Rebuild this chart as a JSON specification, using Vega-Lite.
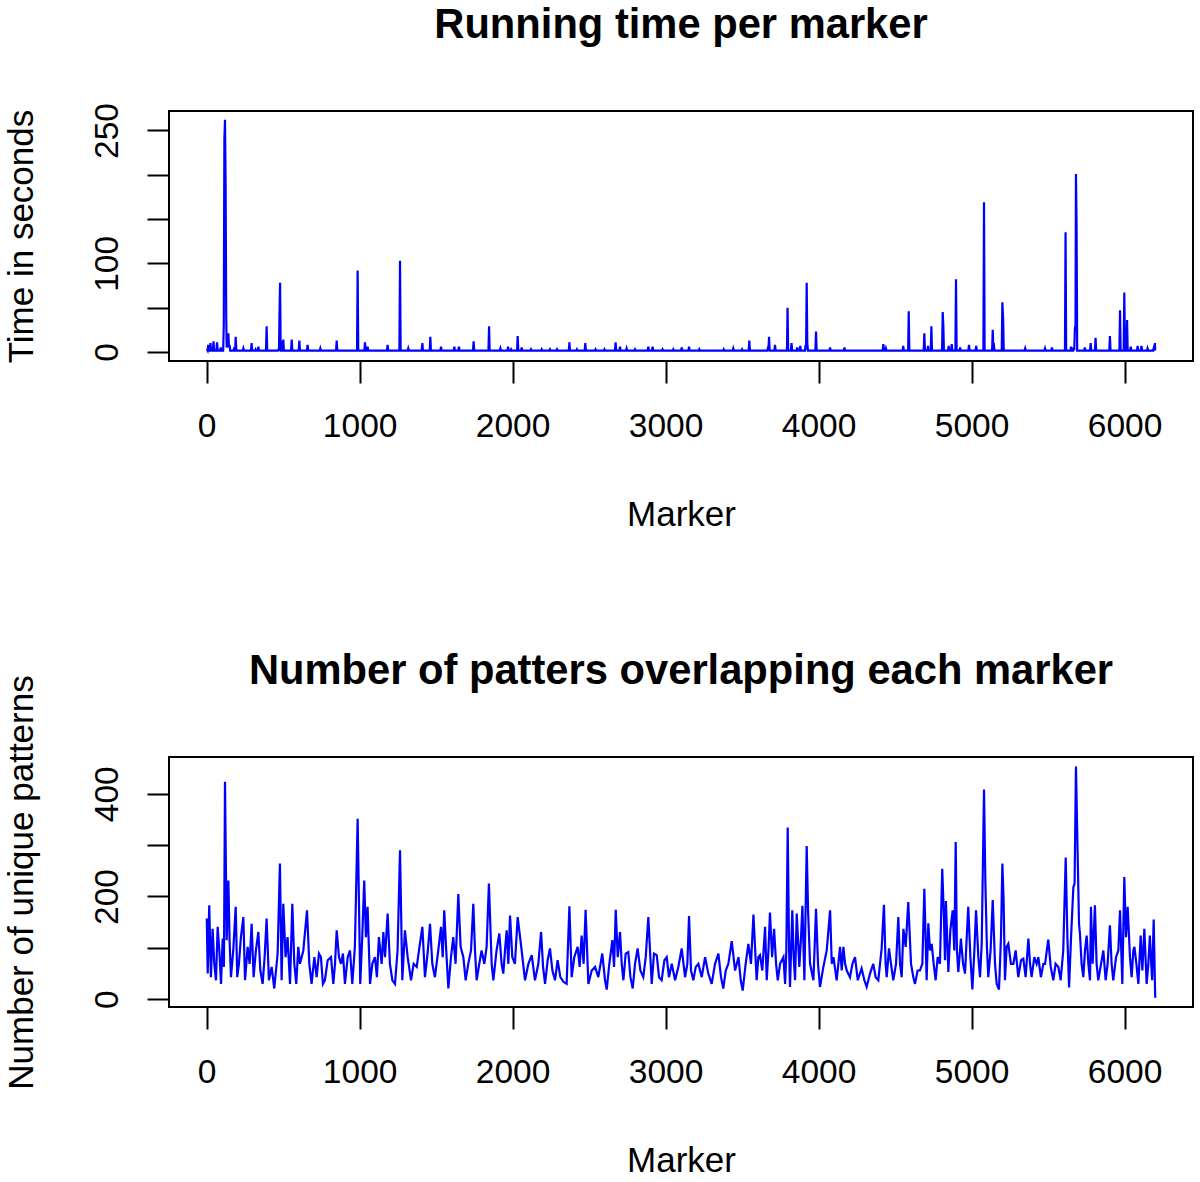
{
 "$schema": "https://vega.github.io/schema/vega-lite/v6.json",
 "background": "white",
 "padding": {"left": 3, "top": 3, "right": 0, "bottom": 0},
 "spacing": 396,
 "bounds": "flush",
 "config": {
  "font": "Liberation Sans",
  "view": {"stroke": "black", "strokeWidth": 2},
  "axis": {"domain": false, "grid": false, "ticks": true, "tickColor": "black", "tickWidth": 2, "tickSize": 22, "labelColor": "black", "labelFontSize": 33.5, "labelFont": "Liberation Sans", "titleFont": "Liberation Sans", "titleFontSize": 35, "titleFontWeight": "normal", "titleColor": "black", "labelOverlap": false, "labelFlush": false},
  "axisX": {"labelPadding": 27, "titlePadding": 55, "format": "d"},
  "axisY": {"labelAngle": -90, "labelAlign": "center", "labelBaseline": "alphabetic", "labelPadding": 30, "titlePadding": 51, "format": "d"},
  "title": {"fontSize": 41.7, "fontWeight": "bold", "font": "Liberation Sans", "color": "black", "anchor": "middle", "baseline": "alphabetic", "frame": "group"}
 },
 "datasets": {
  "t": [
   {"m":1,"v":3},{"m":6,"v":1.5},{"m":10,"v":8},{"m":14,"v":1.5},{"m":21,"v":1.5},{"m":25,"v":10},{"m":29,"v":1.5},{"m":41,"v":1.5},{"m":45,"v":12},{"m":49,"v":1.5},{"m":64,"v":1.5},{"m":68,"v":11},{"m":72,"v":1.5},{"m":88,"v":1.5},{"m":92,"v":5},{"m":96,"v":1.5},{"m":108,"v":1.5},{"m":112,"v":30},{"m":116,"v":240},{"m":120,"v":262},{"m":124,"v":190},{"m":128,"v":40},{"m":131,"v":5},{"m":135,"v":12},{"m":138,"v":5},{"m":142,"v":21},{"m":146,"v":5},{"m":150,"v":8},{"m":154,"v":1.5},{"m":176,"v":1.5},{"m":180,"v":5},{"m":184,"v":1.5},{"m":186,"v":1.5},{"m":190,"v":17},{"m":194,"v":1.5},{"m":236,"v":1.5},{"m":240,"v":4},{"m":244,"v":1.5},{"m":290,"v":1.5},{"m":294,"v":10},{"m":298,"v":1.5},{"m":316,"v":1.5},{"m":320,"v":3},{"m":324,"v":1.5},{"m":334,"v":1.5},{"m":338,"v":6},{"m":342,"v":1.5},{"m":388,"v":1.5},{"m":392,"v":29},{"m":396,"v":1.5},{"m":466,"v":1.5},{"m":470,"v":3},{"m":473,"v":1.5},{"m":476,"v":40},{"m":480,"v":78},{"m":484,"v":1.5},{"m":488,"v":1.5},{"m":492,"v":12},{"m":496,"v":1.5},{"m":497,"v":1.5},{"m":501,"v":14},{"m":505,"v":1.5},{"m":552,"v":1.5},{"m":556,"v":14},{"m":560,"v":1.5},{"m":602,"v":1.5},{"m":606,"v":13},{"m":610,"v":1.5},{"m":656,"v":1.5},{"m":660,"v":8},{"m":664,"v":1.5},{"m":739,"v":1.5},{"m":743,"v":4},{"m":747,"v":1.5},{"m":846,"v":1.5},{"m":850,"v":13},{"m":854,"v":1.5},{"m":983,"v":1.5},{"m":987,"v":92},{"m":991,"v":1.5},{"m":1031,"v":1.5},{"m":1035,"v":11},{"m":1039,"v":1.5},{"m":1048,"v":1.5},{"m":1052,"v":6},{"m":1056,"v":1.5},{"m":1179,"v":1.5},{"m":1183,"v":8},{"m":1187,"v":1.5},{"m":1260,"v":1.5},{"m":1264,"v":103},{"m":1268,"v":1.5},{"m":1314,"v":1.5},{"m":1318,"v":4},{"m":1322,"v":1.5},{"m":1406,"v":1.5},{"m":1410,"v":10},{"m":1414,"v":1.5},{"m":1458,"v":1.5},{"m":1462,"v":17},{"m":1466,"v":1.5},{"m":1528,"v":1.5},{"m":1532,"v":6},{"m":1536,"v":1.5},{"m":1615,"v":1.5},{"m":1619,"v":6},{"m":1623,"v":1.5},{"m":1645,"v":1.5},{"m":1649,"v":6},{"m":1653,"v":1.5},{"m":1741,"v":1.5},{"m":1745,"v":12},{"m":1749,"v":1.5},{"m":1842,"v":1.5},{"m":1846,"v":29},{"m":1850,"v":1.5},{"m":1916,"v":1.5},{"m":1920,"v":4},{"m":1924,"v":1.5},{"m":1966,"v":1.5},{"m":1970,"v":6},{"m":1974,"v":1.5},{"m":1986,"v":1.5},{"m":1990,"v":3},{"m":1994,"v":1.5},{"m":2029,"v":1.5},{"m":2033,"v":18},{"m":2037,"v":1.5},{"m":2055,"v":1.5},{"m":2059,"v":5},{"m":2063,"v":1.5},{"m":2116,"v":1.5},{"m":2120,"v":3},{"m":2124,"v":1.5},{"m":2186,"v":1.5},{"m":2190,"v":3},{"m":2194,"v":1.5},{"m":2240,"v":1.5},{"m":2244,"v":3},{"m":2248,"v":1.5},{"m":2286,"v":1.5},{"m":2290,"v":3},{"m":2294,"v":1.5},{"m":2367,"v":1.5},{"m":2371,"v":11},{"m":2375,"v":1.5},{"m":2416,"v":1.5},{"m":2420,"v":3},{"m":2424,"v":1.5},{"m":2471,"v":1.5},{"m":2475,"v":10},{"m":2479,"v":1.5},{"m":2538,"v":1.5},{"m":2542,"v":3},{"m":2546,"v":1.5},{"m":2596,"v":1.5},{"m":2600,"v":3},{"m":2604,"v":1.5},{"m":2669,"v":1.5},{"m":2673,"v":11},{"m":2677,"v":1.5},{"m":2698,"v":1.5},{"m":2702,"v":6},{"m":2706,"v":1.5},{"m":2741,"v":1.5},{"m":2745,"v":4},{"m":2749,"v":1.5},{"m":2796,"v":1.5},{"m":2800,"v":3},{"m":2804,"v":1.5},{"m":2883,"v":1.5},{"m":2887,"v":6},{"m":2891,"v":1.5},{"m":2911,"v":1.5},{"m":2915,"v":6},{"m":2919,"v":1.5},{"m":2976,"v":1.5},{"m":2980,"v":3},{"m":2984,"v":1.5},{"m":3046,"v":1.5},{"m":3050,"v":3},{"m":3054,"v":1.5},{"m":3101,"v":1.5},{"m":3105,"v":5},{"m":3109,"v":1.5},{"m":3149,"v":1.5},{"m":3153,"v":6},{"m":3157,"v":1.5},{"m":3216,"v":1.5},{"m":3220,"v":3},{"m":3224,"v":1.5},{"m":3376,"v":1.5},{"m":3380,"v":3},{"m":3384,"v":1.5},{"m":3438,"v":1.5},{"m":3442,"v":4},{"m":3446,"v":1.5},{"m":3496,"v":1.5},{"m":3500,"v":3},{"m":3504,"v":1.5},{"m":3543,"v":1.5},{"m":3547,"v":13},{"m":3551,"v":1.5},{"m":3664,"v":1.5},{"m":3668,"v":4},{"m":3672,"v":1.5},{"m":3676,"v":17},{"m":3680,"v":1.5},{"m":3711,"v":1.5},{"m":3715,"v":8},{"m":3719,"v":1.5},{"m":3793,"v":1.5},{"m":3797,"v":50},{"m":3801,"v":1.5},{"m":3819,"v":1.5},{"m":3823,"v":10},{"m":3827,"v":1.5},{"m":3856,"v":1.5},{"m":3860,"v":5},{"m":3864,"v":1.5},{"m":3876,"v":1.5},{"m":3880,"v":7},{"m":3884,"v":1.5},{"m":3911,"v":1.5},{"m":3915,"v":8},{"m":3918,"v":3},{"m":3922,"v":78},{"m":3926,"v":10},{"m":3930,"v":1.5},{"m":3979,"v":1.5},{"m":3983,"v":23},{"m":3987,"v":1.5},{"m":4071,"v":1.5},{"m":4075,"v":5},{"m":4079,"v":1.5},{"m":4165,"v":1.5},{"m":4169,"v":5},{"m":4173,"v":1.5},{"m":4419,"v":1.5},{"m":4423,"v":9},{"m":4427,"v":1.5},{"m":4436,"v":1.5},{"m":4440,"v":4},{"m":4444,"v":1.5},{"m":4549,"v":1.5},{"m":4553,"v":7},{"m":4557,"v":1.5},{"m":4585,"v":1.5},{"m":4589,"v":46},{"m":4593,"v":1.5},{"m":4687,"v":1.5},{"m":4691,"v":21},{"m":4695,"v":1.5},{"m":4711,"v":1.5},{"m":4715,"v":7},{"m":4719,"v":1.5},{"m":4733,"v":1.5},{"m":4737,"v":29},{"m":4741,"v":1.5},{"m":4807,"v":1.5},{"m":4811,"v":45},{"m":4815,"v":30},{"m":4819,"v":1.5},{"m":4846,"v":1.5},{"m":4850,"v":7},{"m":4854,"v":1.5},{"m":4866,"v":1.5},{"m":4870,"v":9},{"m":4874,"v":1.5},{"m":4894,"v":1.5},{"m":4898,"v":82},{"m":4902,"v":1.5},{"m":4921,"v":1.5},{"m":4925,"v":5},{"m":4929,"v":1.5},{"m":4979,"v":1.5},{"m":4983,"v":8},{"m":4987,"v":1.5},{"m":5026,"v":1.5},{"m":5030,"v":7},{"m":5034,"v":1.5},{"m":5077,"v":1.5},{"m":5081,"v":169},{"m":5085,"v":1.5},{"m":5134,"v":1.5},{"m":5138,"v":25},{"m":5142,"v":5},{"m":5145,"v":10},{"m":5149,"v":1.5},{"m":5197,"v":1.5},{"m":5201,"v":56},{"m":5206,"v":37},{"m":5210,"v":1.5},{"m":5346,"v":1.5},{"m":5350,"v":4},{"m":5354,"v":1.5},{"m":5476,"v":1.5},{"m":5480,"v":4},{"m":5484,"v":1.5},{"m":5521,"v":1.5},{"m":5525,"v":5},{"m":5529,"v":1.5},{"m":5610,"v":1.5},{"m":5614,"v":135},{"m":5618,"v":1.5},{"m":5646,"v":1.5},{"m":5650,"v":6},{"m":5654,"v":1.5},{"m":5664,"v":1.5},{"m":5668,"v":5},{"m":5671,"v":2},{"m":5675,"v":27},{"m":5679,"v":30},{"m":5682,"v":201},{"m":5686,"v":143},{"m":5690,"v":1.5},{"m":5736,"v":1.5},{"m":5740,"v":5},{"m":5744,"v":1.5},{"m":5774,"v":1.5},{"m":5778,"v":10},{"m":5782,"v":1.5},{"m":5806,"v":1.5},{"m":5810,"v":16},{"m":5814,"v":1.5},{"m":5900,"v":1.5},{"m":5904,"v":18},{"m":5908,"v":1.5},{"m":5966,"v":1.5},{"m":5970,"v":47},{"m":5974,"v":1.5},{"m":5994,"v":1.5},{"m":5998,"v":67},{"m":6002,"v":1.5},{"m":6012,"v":1.5},{"m":6016,"v":36},{"m":6020,"v":1.5},{"m":6036,"v":1.5},{"m":6040,"v":6},{"m":6044,"v":1.5},{"m":6081,"v":1.5},{"m":6085,"v":7},{"m":6089,"v":1.5},{"m":6106,"v":1.5},{"m":6110,"v":7},{"m":6114,"v":1.5},{"m":6146,"v":1.5},{"m":6150,"v":4},{"m":6154,"v":1.5},{"m":6186,"v":1.5},{"m":6190,"v":4},{"m":6194,"v":1.5},{"m":6198,"v":10},{"m":6200,"v":2}
  ],
  "n": [
   {"m":1,"v":157},{"m":7,"v":50},{"m":17,"v":183},{"m":28,"v":43},{"m":39,"v":137},{"m":50,"v":69},{"m":61,"v":37},{"m":72,"v":141},{"m":83,"v":95},{"m":94,"v":30},{"m":105,"v":118},{"m":113,"v":63},{"m":120,"v":423},{"m":131,"v":115},{"m":142,"v":231},{"m":150,"v":115},{"m":159,"v":43},{"m":174,"v":95},{"m":190,"v":180},{"m":200,"v":43},{"m":211,"v":69},{"m":224,"v":121},{"m":240,"v":160},{"m":251,"v":37},{"m":268,"v":102},{"m":281,"v":69},{"m":294,"v":147},{"m":307,"v":43},{"m":322,"v":95},{"m":338,"v":131},{"m":351,"v":56},{"m":366,"v":30},{"m":379,"v":82},{"m":392,"v":157},{"m":407,"v":37},{"m":425,"v":63},{"m":442,"v":21},{"m":464,"v":89},{"m":479,"v":264},{"m":490,"v":37},{"m":501,"v":186},{"m":516,"v":82},{"m":529,"v":121},{"m":545,"v":30},{"m":560,"v":186},{"m":573,"v":69},{"m":586,"v":30},{"m":599,"v":102},{"m":610,"v":69},{"m":632,"v":95},{"m":656,"v":173},{"m":671,"v":69},{"m":686,"v":30},{"m":704,"v":82},{"m":719,"v":43},{"m":734,"v":89},{"m":747,"v":82},{"m":760,"v":30},{"m":773,"v":37},{"m":791,"v":76},{"m":813,"v":82},{"m":828,"v":30},{"m":839,"v":69},{"m":850,"v":134},{"m":865,"v":82},{"m":878,"v":69},{"m":891,"v":89},{"m":904,"v":30},{"m":922,"v":82},{"m":937,"v":95},{"m":952,"v":30},{"m":969,"v":102},{"m":987,"v":351},{"m":1004,"v":30},{"m":1017,"v":121},{"m":1030,"v":231},{"m":1041,"v":121},{"m":1052,"v":180},{"m":1068,"v":30},{"m":1083,"v":69},{"m":1100,"v":82},{"m":1113,"v":43},{"m":1126,"v":121},{"m":1144,"v":69},{"m":1155,"v":131},{"m":1166,"v":82},{"m":1183,"v":167},{"m":1198,"v":69},{"m":1214,"v":37},{"m":1231,"v":30},{"m":1248,"v":95},{"m":1264,"v":290},{"m":1279,"v":37},{"m":1296,"v":134},{"m":1314,"v":82},{"m":1336,"v":37},{"m":1353,"v":69},{"m":1373,"v":63},{"m":1388,"v":95},{"m":1410,"v":141},{"m":1427,"v":43},{"m":1444,"v":89},{"m":1460,"v":147},{"m":1475,"v":69},{"m":1492,"v":43},{"m":1514,"v":95},{"m":1532,"v":141},{"m":1543,"v":82},{"m":1553,"v":173},{"m":1566,"v":95},{"m":1580,"v":21},{"m":1597,"v":82},{"m":1612,"v":121},{"m":1627,"v":69},{"m":1645,"v":205},{"m":1660,"v":102},{"m":1678,"v":82},{"m":1693,"v":37},{"m":1710,"v":69},{"m":1728,"v":95},{"m":1743,"v":186},{"m":1754,"v":95},{"m":1765,"v":37},{"m":1782,"v":69},{"m":1797,"v":95},{"m":1815,"v":69},{"m":1830,"v":102},{"m":1845,"v":225},{"m":1863,"v":69},{"m":1874,"v":37},{"m":1895,"v":95},{"m":1913,"v":128},{"m":1928,"v":69},{"m":1939,"v":50},{"m":1950,"v":95},{"m":1961,"v":134},{"m":1972,"v":69},{"m":1983,"v":163},{"m":1998,"v":82},{"m":2015,"v":69},{"m":2033,"v":160},
   {"m":2059,"v":95},{"m":2081,"v":37},{"m":2103,"v":69},{"m":2125,"v":86},{"m":2146,"v":37},{"m":2168,"v":69},{"m":2186,"v":131},{"m":2199,"v":63},{"m":2212,"v":30},{"m":2229,"v":76},{"m":2244,"v":99},{"m":2260,"v":56},{"m":2277,"v":37},{"m":2294,"v":76},{"m":2312,"v":43},{"m":2332,"v":34},{"m":2353,"v":30},{"m":2371,"v":181},{"m":2386,"v":43},{"m":2403,"v":82},{"m":2425,"v":102},{"m":2438,"v":63},{"m":2451,"v":124},{"m":2464,"v":69},{"m":2477,"v":174},{"m":2495,"v":30},{"m":2517,"v":56},{"m":2539,"v":63},{"m":2560,"v":43},{"m":2586,"v":89},{"m":2604,"v":37},{"m":2615,"v":19},{"m":2632,"v":69},{"m":2652,"v":115},{"m":2663,"v":63},{"m":2674,"v":174},{"m":2687,"v":82},{"m":2702,"v":131},{"m":2713,"v":69},{"m":2724,"v":37},{"m":2739,"v":89},{"m":2756,"v":92},{"m":2770,"v":43},{"m":2785,"v":21},{"m":2800,"v":69},{"m":2817,"v":99},{"m":2835,"v":56},{"m":2854,"v":43},{"m":2870,"v":82},{"m":2887,"v":160},{"m":2909,"v":30},{"m":2924,"v":89},{"m":2942,"v":86},{"m":2957,"v":43},{"m":2974,"v":37},{"m":2992,"v":76},{"m":3007,"v":82},{"m":3022,"v":43},{"m":3040,"v":69},{"m":3062,"v":37},{"m":3083,"v":63},{"m":3105,"v":99},{"m":3127,"v":43},{"m":3142,"v":69},{"m":3153,"v":162},{"m":3166,"v":56},{"m":3181,"v":37},{"m":3197,"v":63},{"m":3214,"v":69},{"m":3236,"v":43},{"m":3258,"v":82},{"m":3279,"v":50},{"m":3301,"v":30},{"m":3323,"v":69},{"m":3345,"v":89},{"m":3362,"v":43},{"m":3377,"v":21},{"m":3393,"v":56},{"m":3410,"v":69},{"m":3432,"v":113},{"m":3454,"v":56},{"m":3476,"v":82},{"m":3491,"v":37},{"m":3504,"v":17},{"m":3523,"v":69},{"m":3541,"v":108},{"m":3558,"v":69},{"m":3574,"v":165},{"m":3595,"v":37},{"m":3606,"v":82},{"m":3617,"v":86},{"m":3632,"v":56},{"m":3650,"v":141},{"m":3661,"v":37},{"m":3672,"v":95},{"m":3682,"v":169},{"m":3696,"v":82},{"m":3709,"v":137},{"m":3722,"v":69},{"m":3733,"v":37},{"m":3748,"v":69},{"m":3770,"v":82},{"m":3781,"v":30},{"m":3789,"v":95},{"m":3798,"v":334},{"m":3807,"v":95},{"m":3813,"v":24},{"m":3828,"v":173},{"m":3837,"v":82},{"m":3846,"v":37},{"m":3857,"v":167},{"m":3874,"v":63},{"m":3885,"v":121},{"m":3894,"v":182},{"m":3907,"v":37},{"m":3922,"v":298},{"m":3931,"v":173},{"m":3944,"v":69},{"m":3966,"v":37},{"m":3983,"v":176},{"m":3996,"v":69},{"m":4009,"v":24},{"m":4031,"v":63},{"m":4053,"v":95},{"m":4075,"v":173},{"m":4086,"v":69},{"m":4097,"v":82},{"m":4118,"v":37},{"m":4129,"v":69},{"m":4140,"v":102},{"m":4151,"v":56},{"m":4162,"v":102},{"m":4173,"v":69},{"m":4184,"v":56},{"m":4205,"v":43},{"m":4221,"v":69},{"m":4238,"v":82},{"m":4256,"v":37},
   {"m":4281,"v":60},{"m":4299,"v":37},{"m":4314,"v":24},{"m":4336,"v":50},{"m":4357,"v":69},{"m":4373,"v":43},{"m":4390,"v":37},{"m":4412,"v":99},{"m":4427,"v":184},{"m":4438,"v":69},{"m":4445,"v":43},{"m":4460,"v":99},{"m":4473,"v":69},{"m":4488,"v":37},{"m":4506,"v":69},{"m":4521,"v":160},{"m":4532,"v":69},{"m":4543,"v":43},{"m":4554,"v":137},{"m":4569,"v":102},{"m":4586,"v":189},{"m":4604,"v":69},{"m":4619,"v":43},{"m":4630,"v":30},{"m":4647,"v":56},{"m":4662,"v":56},{"m":4678,"v":69},{"m":4691,"v":215},{"m":4706,"v":37},{"m":4717,"v":148},{"m":4728,"v":95},{"m":4739,"v":108},{"m":4752,"v":69},{"m":4765,"v":37},{"m":4778,"v":82},{"m":4793,"v":69},{"m":4808,"v":254},{"m":4819,"v":160},{"m":4826,"v":76},{"m":4832,"v":191},{"m":4848,"v":53},{"m":4861,"v":134},{"m":4876,"v":173},{"m":4887,"v":95},{"m":4896,"v":306},{"m":4904,"v":95},{"m":4913,"v":53},{"m":4930,"v":118},{"m":4944,"v":69},{"m":4957,"v":50},{"m":4968,"v":121},{"m":4978,"v":180},{"m":4992,"v":82},{"m":5005,"v":19},{"m":5018,"v":95},{"m":5029,"v":173},{"m":5044,"v":82},{"m":5055,"v":43},{"m":5066,"v":108},{"m":5081,"v":408},{"m":5090,"v":225},{"m":5100,"v":102},{"m":5109,"v":43},{"m":5124,"v":95},{"m":5138,"v":193},{"m":5153,"v":69},{"m":5164,"v":30},{"m":5179,"v":19},{"m":5192,"v":121},{"m":5201,"v":264},{"m":5209,"v":193},{"m":5218,"v":37},{"m":5229,"v":102},{"m":5240,"v":108},{"m":5257,"v":69},{"m":5273,"v":69},{"m":5288,"v":95},{"m":5305,"v":43},{"m":5323,"v":76},{"m":5338,"v":79},{"m":5353,"v":43},{"m":5371,"v":118},{"m":5382,"v":69},{"m":5392,"v":43},{"m":5410,"v":82},{"m":5425,"v":69},{"m":5436,"v":82},{"m":5453,"v":43},{"m":5469,"v":69},{"m":5480,"v":69},{"m":5501,"v":116},{"m":5517,"v":63},{"m":5534,"v":37},{"m":5549,"v":69},{"m":5567,"v":63},{"m":5582,"v":37},{"m":5599,"v":95},{"m":5615,"v":276},{"m":5626,"v":121},{"m":5637,"v":23},{"m":5650,"v":121},{"m":5665,"v":218},{"m":5673,"v":225},{"m":5682,"v":453},{"m":5693,"v":283},{"m":5702,"v":147},{"m":5708,"v":128},{"m":5719,"v":69},{"m":5730,"v":43},{"m":5741,"v":95},{"m":5752,"v":124},{"m":5763,"v":69},{"m":5774,"v":37},{"m":5780,"v":180},{"m":5791,"v":69},{"m":5806,"v":183},{"m":5817,"v":69},{"m":5828,"v":37},{"m":5846,"v":69},{"m":5861,"v":95},{"m":5876,"v":37},{"m":5889,"v":69},{"m":5904,"v":144},{"m":5915,"v":69},{"m":5926,"v":37},{"m":5944,"v":82},{"m":5959,"v":95},{"m":5970,"v":173},{"m":5985,"v":30},{"m":5998,"v":238},{"m":6009,"v":121},{"m":6020,"v":180},{"m":6035,"v":82},{"m":6046,"v":43},{"m":6057,"v":95},{"m":6064,"v":102},{"m":6077,"v":69},{"m":6090,"v":30},{"m":6105,"v":124},{"m":6116,"v":56},{"m":6129,"v":137},{"m":6144,"v":30},{"m":6155,"v":69},{"m":6165,"v":124},{"m":6174,"v":69},{"m":6180,"v":37},{"m":6190,"v":155},{"m":6200,"v":3}
  ]
 },
 "vconcat": [
  {
   "title": {"text": "Running time per marker", "offset": 56},
   "width": 1024,
   "height": 250,
   "data": {"name": "t"},
   "mark": {"type": "line", "color": "#0000ff", "strokeWidth": 2.2},
   "encoding": {
    "x": {"field": "m", "type": "quantitative", "title": "Marker", "scale": {"domain": [-246, 6447], "nice": false, "zero": false}, "axis": {"values": [0, 1000, 2000, 3000, 4000, 5000, 6000]}},
    "y": {"field": "v", "type": "quantitative", "title": "Time in seconds", "scale": {"domain": [-10.2, 272], "nice": false, "zero": false}, "axis": {"values": [0, 50, 100, 150, 200, 250], "labelExpr": "datum.value == 0 || datum.value == 100 || datum.value == 250 ? datum.label : ''"}}
   }
  },
  {
   "title": {"text": "Number of patters overlapping each marker", "offset": -18},
   "width": 1024,
   "height": 250,
   "data": {"name": "n"},
   "mark": {"type": "line", "color": "#0000ff", "strokeWidth": 2.2},
   "encoding": {
    "x": {"field": "m", "type": "quantitative", "title": "Marker", "scale": {"domain": [-246, 6447], "nice": false, "zero": false}, "axis": {"values": [0, 1000, 2000, 3000, 4000, 5000, 6000]}},
    "y": {"field": "v", "type": "quantitative", "title": "Number of unique patterns", "scale": {"domain": [-15, 471.4], "nice": false, "zero": false}, "axis": {"values": [0, 100, 200, 300, 400], "labelExpr": "datum.value % 200 == 0 ? datum.label : ''"}}
   }
  }
 ]
}
